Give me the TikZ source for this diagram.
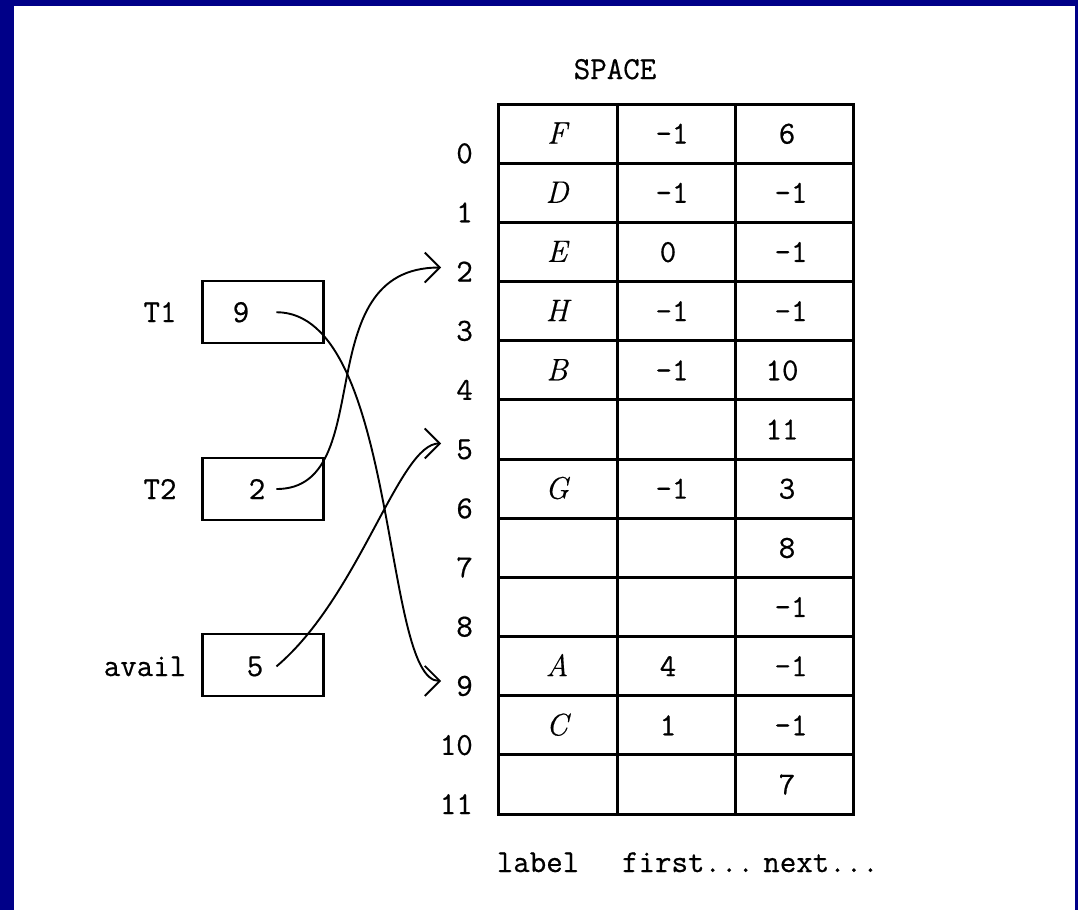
\documentclass[tikz,border=0pt]{standalone}
\usepackage{fontspec}
\newfontfamily\ttheavy{Latin Modern Mono}[FakeBold=0.6]
\newfontfamily\itheavy{Latin Modern Roman}[FakeBold=0.4]
\usetikzlibrary{arrows.meta}
\definecolor{frameblue}{RGB}{0,0,136}
\begin{document}
\begin{tikzpicture}[x=1pt,y=-1pt,
  tt/.style={font=\fontsize{32}{38}\selectfont\ttheavy, inner sep=0pt},
  it/.style={font=\fontsize{31}{37}\selectfont\itheavy\itshape, inner sep=0pt, anchor=base},
  cell/.style={tt, anchor=base},
  idx/.style={tt, anchor=base east},
  valbox/.style={draw, line width=2.7pt, minimum width=121pt, minimum height=62pt, inner sep=0pt},
  link/.style={line width=1.9pt, -{Straight Barb[length=15pt,width=30pt]}},
  gridline/.style={line width=3pt}]
\useasboundingbox (0,0) rectangle (1078,910);
\fill[frameblue] (0,0) rectangle (1078,910);
\fill[white] (14,6) rectangle (1075,910);

% title
\node[cell] (title) at (615,79) {SPACE};

% table
\draw[gridline] (498,104) rectangle (853,814);
\draw[gridline] (617,104) -- (617,814);
\draw[gridline] (735,104) -- (735,814);
\foreach \k in {1,...,11}
  \draw[gridline] (498,{104+59.17*\k}) -- (853,{104+59.17*\k});

% row indices
\foreach \i in {0,...,11}
  \node[idx] (i\i) at (473,{104+59.17*(\i+1)}) {\i};

% cells
\foreach \r/\lab/\fx/\fv/\nx/\nv in {
  0/F/672/-1/787/6,
  1/D/672/-1/791/-1,
  2/E/668/0/791/-1,
  3/H/672/-1/791/-1,
  4/B/672/-1/782/10,
  6/G/672/-1/787/3,
  9/A/668/4/791/-1,
  10/C/668/1/791/-1}{
  \node[it] (l\r) at (557,{104+59.17*(\r+0.5)+10}) {\lab};
  \node[cell] (f\r) at (\fx,{104+59.17*(\r+0.5)+10}) {\fv};
  \node[cell] (n\r) at (\nx,{104+59.17*(\r+0.5)+10}) {\nv};
}
\foreach \r/\nx/\nv in {5/782/11, 7/787/8, 8/791/-1, 11/787/7}
  \node[cell] (n\r) at (\nx,{104+59.17*(\r+0.5)+10}) {\nv};

% column captions
\node[cell] (clabel) at (538,872) {label};
\node[cell] (cfirst) at (688,872) {first...};
\node[cell] (cnext) at (821,872) {next...};

% variable boxes
\node[valbox] (b1) at (263,312) {};
\node[valbox] (b2) at (263,489) {};
\node[valbox] (b3) at (263,665) {};
\node[cell] (t1) at (160,322) {T1};
\node[cell] (t2) at (160,499) {T2};
\node[cell] (av) at (145,676) {avail};
\node[cell] (v1) at (241,322) {9};
\node[cell] (v2) at (257,499) {2};
\node[cell] (v3) at (255,676) {5};

% pointers
\draw[link] ([xshift=27pt]v1.east) .. controls +(122,0) and +(-59,0) .. ([shift={(-15,-5)}]i9.west);
\draw[link] ([xshift=11pt]v2.east) .. controls +(104,0) and +(-136,0) .. ([shift={(-15,-4)}]i2.west);
\draw[link] ([xshift=13pt]v3.east) .. controls +(83,-70) and +(-42,0) .. ([shift={(-15,-6)}]i5.west);
\end{tikzpicture}
\end{document}
